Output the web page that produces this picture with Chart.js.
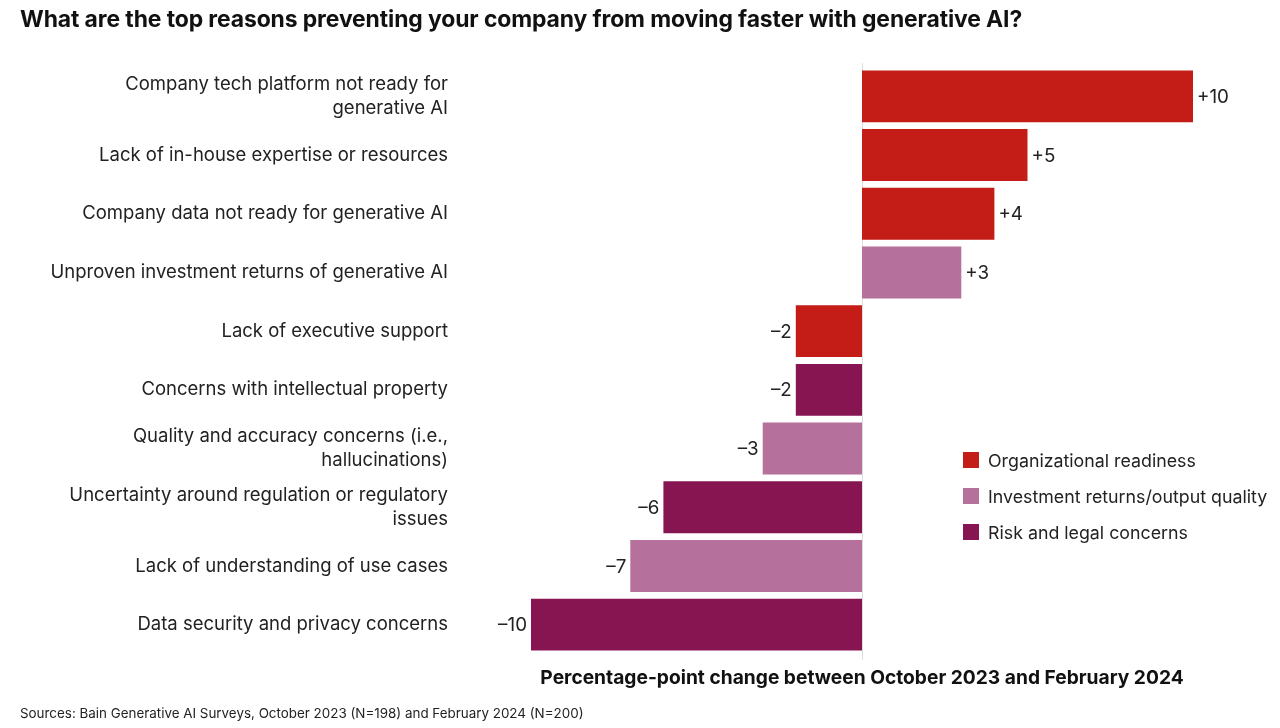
<!DOCTYPE html>
<html>
<head>
<meta charset="utf-8">
<script src="https://cdn.jsdelivr.net/npm/chart.js@4.4.1/dist/chart.umd.min.js"></script>
<style>
  html, body { margin: 0; padding: 0; background: #fff; }
  body { width: 1280px; height: 728px; position: relative; overflow: hidden; font-family: Inter, "Noto Sans", sans-serif; color: #111; }
  #title { position: absolute; left: 20px; top: 5px; font-size: 22.9px; font-weight: 700; letter-spacing: -0.1px; }
  #source { position: absolute; left: 20px; top: 705px; font-size: 13.4px; color: #222; }
  #wrap { position: absolute; left: 0; top: 0; width: 1280px; height: 728px; }
  #legend { position: absolute; left: 963px; top: 442px; font-size: 17.8px; color: #222; }
  .li { display: flex; align-items: center; height: 36px; }
  .sw { width: 16px; height: 16px; margin-right: 9px; }
</style>
</head>
<body>
<div id="wrap"><canvas id="c" width="1280" height="728"></canvas></div>
<div id="title">What are the top reasons preventing your company from moving faster with generative AI?</div>
<div id="legend"></div>
<div id="source">Sources: Bain Generative AI Surveys, October 2023 (N=198) and February 2024 (N=200)</div>
<script>
const categories = [
  ["Company tech platform not ready for", "generative AI"],
  "Lack of in-house expertise or resources",
  "Company data not ready for generative AI",
  "Unproven investment returns of generative AI",
  "Lack of executive support",
  "Concerns with intellectual property",
  ["Quality and accuracy concerns (i.e.,", "hallucinations)"],
  ["Uncertainty around regulation or regulatory", "issues"],
  "Lack of understanding of use cases",
  "Data security and privacy concerns"
];
const values = [10, 5, 4, 3, -2, -2, -3, -6, -7, -10];
const groups = [
  "Organizational readiness",
  "Organizational readiness",
  "Organizational readiness",
  "Investment returns/output quality",
  "Organizational readiness",
  "Risk and legal concerns",
  "Investment returns/output quality",
  "Risk and legal concerns",
  "Investment returns/output quality",
  "Risk and legal concerns"
];
const legendLabels = ["Organizational readiness", "Investment returns/output quality", "Risk and legal concerns"];
const axisTitle = "Percentage-point change between October 2023 and February 2024";

const groupColors = {
  "Organizational readiness": "#c41c16",
  "Investment returns/output quality": "#b5719c",
  "Risk and legal concerns": "#861552"
};

const lg = document.getElementById('legend');
legendLabels.forEach(l => {
  const d = document.createElement('div'); d.className = 'li';
  const s = document.createElement('div'); s.className = 'sw'; s.style.background = groupColors[l];
  const t = document.createElement('span'); t.textContent = l;
  d.appendChild(s); d.appendChild(t); lg.appendChild(d);
});

const FONT = 'Inter, "Noto Sans", sans-serif';

const valueLabels = {
  id: 'valueLabels',
  afterDatasetsDraw(chart) {
    const ctx = chart.ctx;
    const meta = chart.getDatasetMeta(0);
    ctx.save();
    ctx.font = '18.8px ' + FONT;
    ctx.fillStyle = '#222';
    ctx.textBaseline = 'middle';
    meta.data.forEach((bar, i) => {
      const v = values[i];
      const txt = (v > 0 ? '+' : '\u2013') + Math.abs(v);
      if (v >= 0) { ctx.textAlign = 'left'; ctx.fillText(txt, bar.x + 4, bar.y + 1); }
      else { ctx.textAlign = 'right'; ctx.fillText(txt, bar.x - 4, bar.y + 1); }
    });
    ctx.restore();
  }
};

const zeroLine = {
  id: 'zeroLine',
  beforeDatasetsDraw(chart) {
    const x = chart.scales.x.getPixelForValue(0);
    const ctx = chart.ctx;
    ctx.save();
    ctx.strokeStyle = '#dddddd';
    ctx.lineWidth = 1;
    ctx.beginPath();
    ctx.moveTo(Math.round(x) + 0.5, chart.chartArea.top - 4);
    ctx.lineTo(Math.round(x) + 0.5, chart.chartArea.bottom + 6);
    ctx.stroke();
    ctx.restore();
  }
};

new Chart(document.getElementById('c'), {
  type: 'bar',
  data: {
    labels: categories,
    datasets: [{
      data: values,
      backgroundColor: groups.map(g => groupColors[g]),
      borderWidth: 0,
      barPercentage: 0.885,
      categoryPercentage: 1.0
    }]
  },
  options: {
    indexAxis: 'y',
    responsive: false,
    animation: false,
    events: [],
    layout: { padding: { top: 67, right: 87, left: 0, bottom: 0 } },
    plugins: { legend: { display: false }, tooltip: { enabled: false } },
    scales: {
      x: {
        min: -10, max: 10,
        grid: { display: false, drawTicks: false },
        border: { display: false },
        ticks: { display: false },
        title: {
          display: true, text: axisTitle,
          color: '#111',
          font: { family: FONT, size: 19.2, weight: '700' },
          padding: { top: 0, bottom: 38 }
        },
        afterFit(scale) { scale.height = 74; scale.paddingLeft = 0; scale.paddingRight = 0; }
      },
      y: {
        grid: { display: false, drawTicks: false },
        border: { display: false },
        ticks: {
          color: '#222',
          padding: 83,
          font: { family: FONT, size: 18.5, lineHeight: 1.3 },
          crossAlign: 'near'
        },
        afterFit(scale) { scale.width = 531; scale.paddingTop = 0; scale.paddingBottom = 0; }
      }
    }
  },
  plugins: [zeroLine, valueLabels]
});
</script>
</body>
</html>
